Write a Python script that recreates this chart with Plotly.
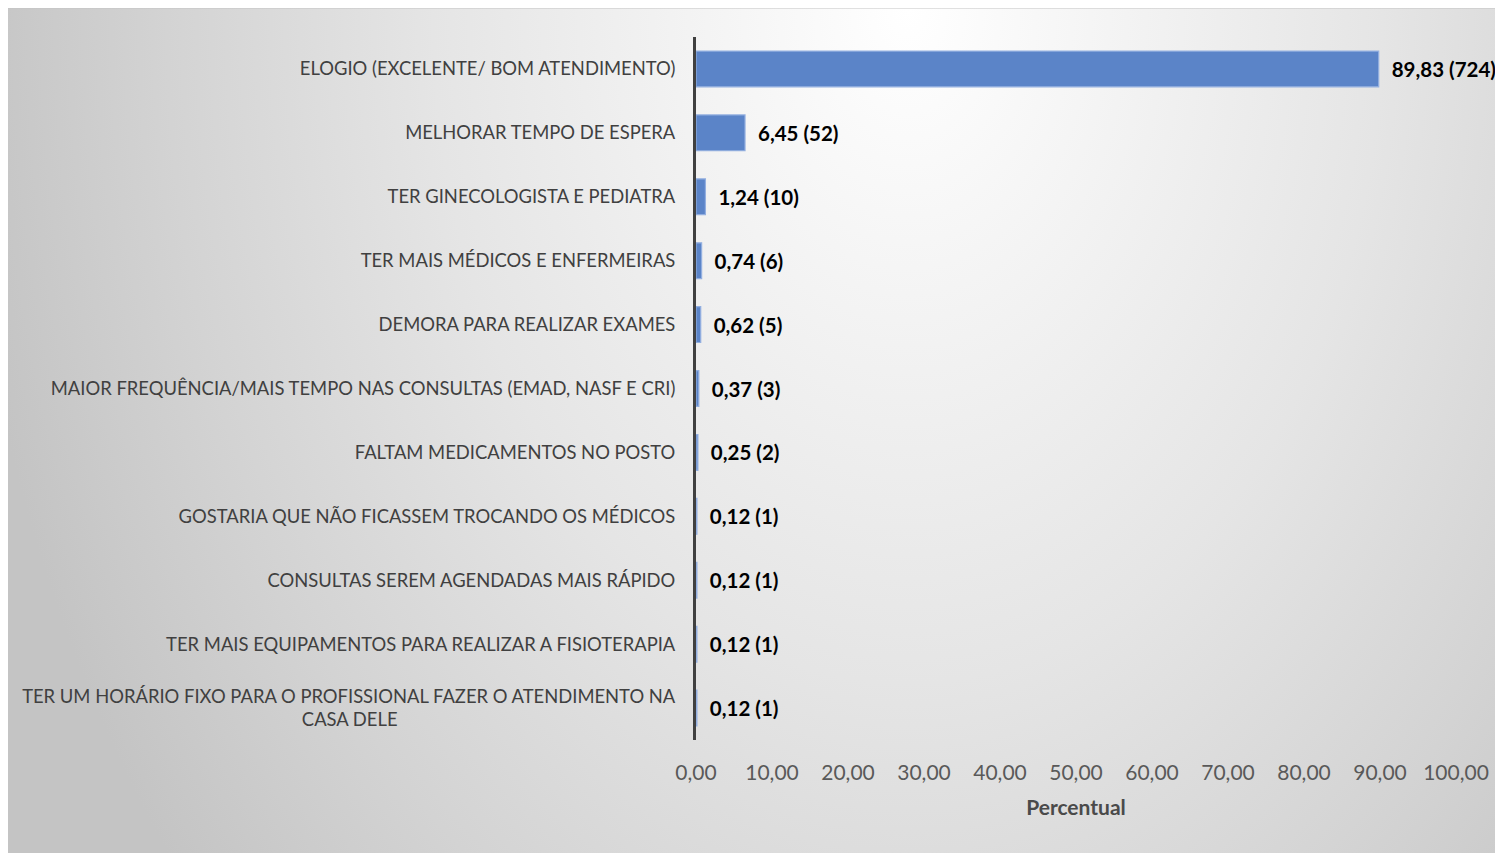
import base64
import plotly.graph_objects as go

categories = [
    "ELOGIO (EXCELENTE/ BOM ATENDIMENTO)",
    "MELHORAR TEMPO DE ESPERA",
    "TER GINECOLOGISTA E PEDIATRA",
    "TER MAIS MÉDICOS E ENFERMEIRAS",
    "DEMORA PARA REALIZAR EXAMES",
    "MAIOR FREQUÊNCIA/MAIS TEMPO NAS CONSULTAS (EMAD, NASF E CRI)",
    "FALTAM MEDICAMENTOS NO POSTO",
    "GOSTARIA QUE NÃO FICASSEM TROCANDO OS MÉDICOS",
    "CONSULTAS SEREM AGENDADAS MAIS RÁPIDO",
    "TER MAIS EQUIPAMENTOS PARA REALIZAR A FISIOTERAPIA",
    "TER UM HORÁRIO FIXO PARA O PROFISSIONAL FAZER O ATENDIMENTO NA<br>CASA DELE" + "\u00a0" * 59,
]
percent = [89.83, 6.45, 1.24, 0.74, 0.62, 0.37, 0.25, 0.12, 0.12, 0.12, 0.12]
counts = [724, 52, 10, 6, 5, 3, 2, 1, 1, 1, 1]
x_ticks = [0, 10, 20, 30, 40, 50, 60, 70, 80, 90, 100]
x_tick_labels = ["0,00", "10,00", "20,00", "30,00", "40,00", "50,00",
                 "60,00", "70,00", "80,00", "90,00", "100,00"]

labels = ["\u00a0\u00a0" + f"{p:.2f}".replace(".", ",") + f" ({c})"
          for p, c in zip(percent, counts)]

W, H = 1495, 845

svg = f'''<svg xmlns="http://www.w3.org/2000/svg" width="{W}" height="{H}" viewBox="0 0 {W} {H}" preserveAspectRatio="none">
<defs><radialGradient id="g" gradientUnits="userSpaceOnUse" cx="900" cy="0" r="1000"
 gradientTransform="translate(900 0) scale(0.95 1.35) translate(-900 0)">
<stop offset="0" stop-color="#ffffff"/>
<stop offset="0.5" stop-color="#e5e5e5"/>
<stop offset="0.78" stop-color="#d3d3d3"/>
<stop offset="1" stop-color="#c4c4c4"/>
</radialGradient></defs>
<rect x="0" y="0" width="{W}" height="{H}" fill="url(#g)"/>
</svg>'''
bg_uri = "data:image/svg+xml;base64," + base64.b64encode(svg.encode()).decode()

fig = go.Figure()
fig.add_trace(go.Bar(
    y=categories, x=percent, orientation="h",
    marker=dict(color="#5b84c8", line=dict(color="#93afe0", width=1.2)),
    width=0.56,
    text=labels, textposition="outside", cliponaxis=False, constraintext="none",
    textfont=dict(family="Lato", size=20.5, color="#000000", weight="bold"),
    hoverinfo="skip",
))

fig.update_layout(
    width=W, height=H,
    margin=dict(l=0, r=0, t=0, b=0),
    paper_bgcolor="#d9d9d9",
    plot_bgcolor="rgba(0,0,0,0)",
    showlegend=False,
    font=dict(family="Lato", color="#404040"),
    images=[dict(source=bg_uri, xref="paper", yref="paper", x=0, y=1,
                 sizex=1, sizey=1, xanchor="left", yanchor="top",
                 sizing="stretch", layer="below")],
    shapes=[dict(type="line", xref="paper", yref="paper", x0=0, y0=1, x1=1, y1=1,
                 line=dict(color="#c4c4c4", width=1))],
    xaxis=dict(
        domain=[688 / W, 1448 / W], range=[0, 100],
        tickvals=x_ticks, ticktext=x_tick_labels,
        showgrid=False, zeroline=False, showline=False,
        ticks="", ticklabelstandoff=18,
        tickfont=dict(family="Lato", size=21, color="#595959"),
        title=dict(text="<b>Percentual</b>", standoff=17,
                   font=dict(family="Lato", size=21, color="#4a4a4a")),
        automargin=False,
    ),
    yaxis=dict(
        domain=[1 - 732 / H, 1 - 29 / H],
        autorange="reversed",
        showgrid=False, zeroline=False,
        showline=True, linecolor="#404040", linewidth=3,
        ticks="", ticklabelstandoff=14,
        tickfont=dict(family="Lato", size=18.4, color="#404040"),
        automargin=False,
    ),
)

fig.write_html("out.html")
